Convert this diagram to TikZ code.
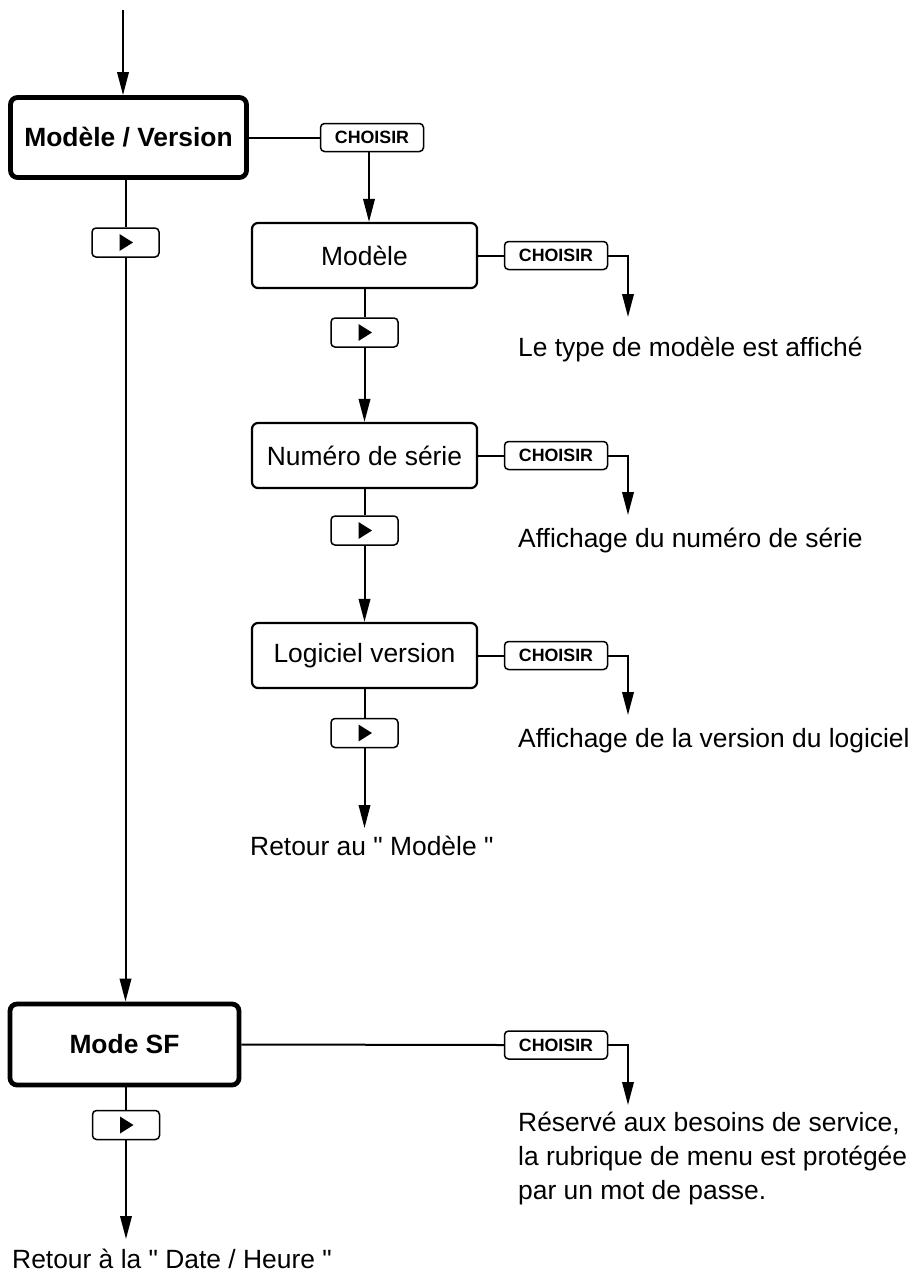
\documentclass[tikz,border=0pt]{standalone}
\usepackage{fontspec}
\setmainfont{Liberation Sans}
\usetikzlibrary{arrows.meta}
\begin{document}
\begin{tikzpicture}[x=1pt,y=-1pt,
  mainbox/.style={draw, line width=4.8pt, rounded corners=7pt, font=\bfseries\fontsize{26.4}{30}\selectfont, minimum width=236pt, minimum height=80pt, inner sep=0pt},
  subbox/.style={draw, line width=2.2pt, rounded corners=6pt, minimum width=225pt, minimum height=65pt, font=\fontsize{26.4}{30}\selectfont, inner sep=0pt},
  selbtn/.style={draw, line width=1.5pt, rounded corners=4pt, minimum width=103pt, minimum height=28pt, font=\bfseries\fontsize{17.8}{20}\selectfont, inner sep=0pt},
  nextbtn/.style={draw, line width=1.5pt, rounded corners=4pt, minimum width=67pt, minimum height=29pt, inner sep=0pt,
    path picture={\fill[sharp corners] ([xshift=-6pt,yshift=-8.5pt]path picture bounding box.center) -- ++(13.5pt,8.5pt) -- ++(-13.5pt,8.5pt) -- cycle;}},
  conn/.style={line width=2pt},
  arr/.style={line width=2pt, -{Triangle[length=23pt,width=11.5pt]}},
  note/.style={font=\fontsize{26.4}{34}\selectfont, inner sep=0pt, align=left},
]
\useasboundingbox (0,0) rectangle (920,1274);

% main column
\coordinate (top) at (123,10);
\node[mainbox] (mv) at (128.5,137.5) {Modèle / Version};
\node[nextbtn] (b1) at (125.5,242.5) {};
\node[mainbox, minimum width=229pt, minimum height=81pt] (sf) at (124.5,1044.5) {Mode SF};
\node[nextbtn] (b5) at (126,1125) {};
\coordinate (k7) at (126,1239);
\node[note, anchor=base west] (n6) at (12,1268) {Retour à la \textquotedbl{} Date / Heure \textquotedbl};

\draw[arr] (top) -- (top |- mv.north);
\draw[conn] (mv.south -| b1) -- (b1.north);
\draw[arr] (b1.south) -- (b1.south |- sf.north);
\draw[conn] (sf.south -| b5) -- (b5.north);
\draw[arr] (b5.south) -- (k7);

% CHOISIR from Modèle / Version
\node[selbtn] (c1) at (372,137.5) {CHOISIR};
\draw[conn] (mv.east) -- (c1.west);

% sub column
\node[subbox] (m) at (364.5,255.5) {Modèle};
\node[nextbtn] (b2) at (364.5,332.5) {};
\node[subbox] (n) at (364.5,455.5) {Numéro de série};
\node[nextbtn] (b3) at (364.5,530.5) {};
\node[subbox] (l) at (364.5,655.5) {Logiciel version};
\node[nextbtn] (b4) at (364.5,733) {};
\coordinate (k5) at (364.5,828);
\node[note, anchor=base west] (n4) at (250,855) {Retour au \textquotedbl{} Modèle \textquotedbl};

\draw[arr] (c1.south -| 369,0) -- (369,0 |- m.north);
\draw[conn] (m.south) -- (b2.north);
\draw[arr] (b2.south) -- (n.north);
\draw[conn] (n.south) -- (b3.north);
\draw[arr] (b3.south) -- (l.north);
\draw[conn] (l.south) -- (b4.north);
\draw[arr] (b4.south) -- (k5);

% CHOISIR branches
\node[selbtn] (c2) at (556,255.5) {CHOISIR};
\node[selbtn] (c3) at (556,455.5) {CHOISIR};
\node[selbtn] (c4) at (556,655.5) {CHOISIR};
\node[selbtn] (c5) at (556,1045) {CHOISIR};
\coordinate (k2) at (628,317);
\coordinate (k3) at (628,515);
\coordinate (k4) at (628,715);
\coordinate (k6) at (628,1105);

\draw[conn] (m.east) -- (c2.west);
\draw[conn] (n.east) -- (c3.west);
\draw[conn] (l.east) -- (c4.west);
\draw[conn] (sf.east) -- (c5.west);
\draw[arr] (c2.east) -| (k2);
\draw[arr] (c3.east) -| (k3);
\draw[arr] (c4.east) -| (k4);
\draw[arr] (c5.east) -| (k6);

\node[note, anchor=base west] (n1) at (518,356) {Le type de modèle est affiché};
\node[note, anchor=base west] (n2) at (518,547) {Affichage du numéro de série};
\node[note, anchor=base west] (n3) at (518,747) {Affichage de la version du logiciel};
\node[note, anchor=base west] (n5) at (518,1199) {Réservé aux besoins de service,\\la rubrique de menu est protégée\\par un mot de passe.};
\end{tikzpicture}
\end{document}
